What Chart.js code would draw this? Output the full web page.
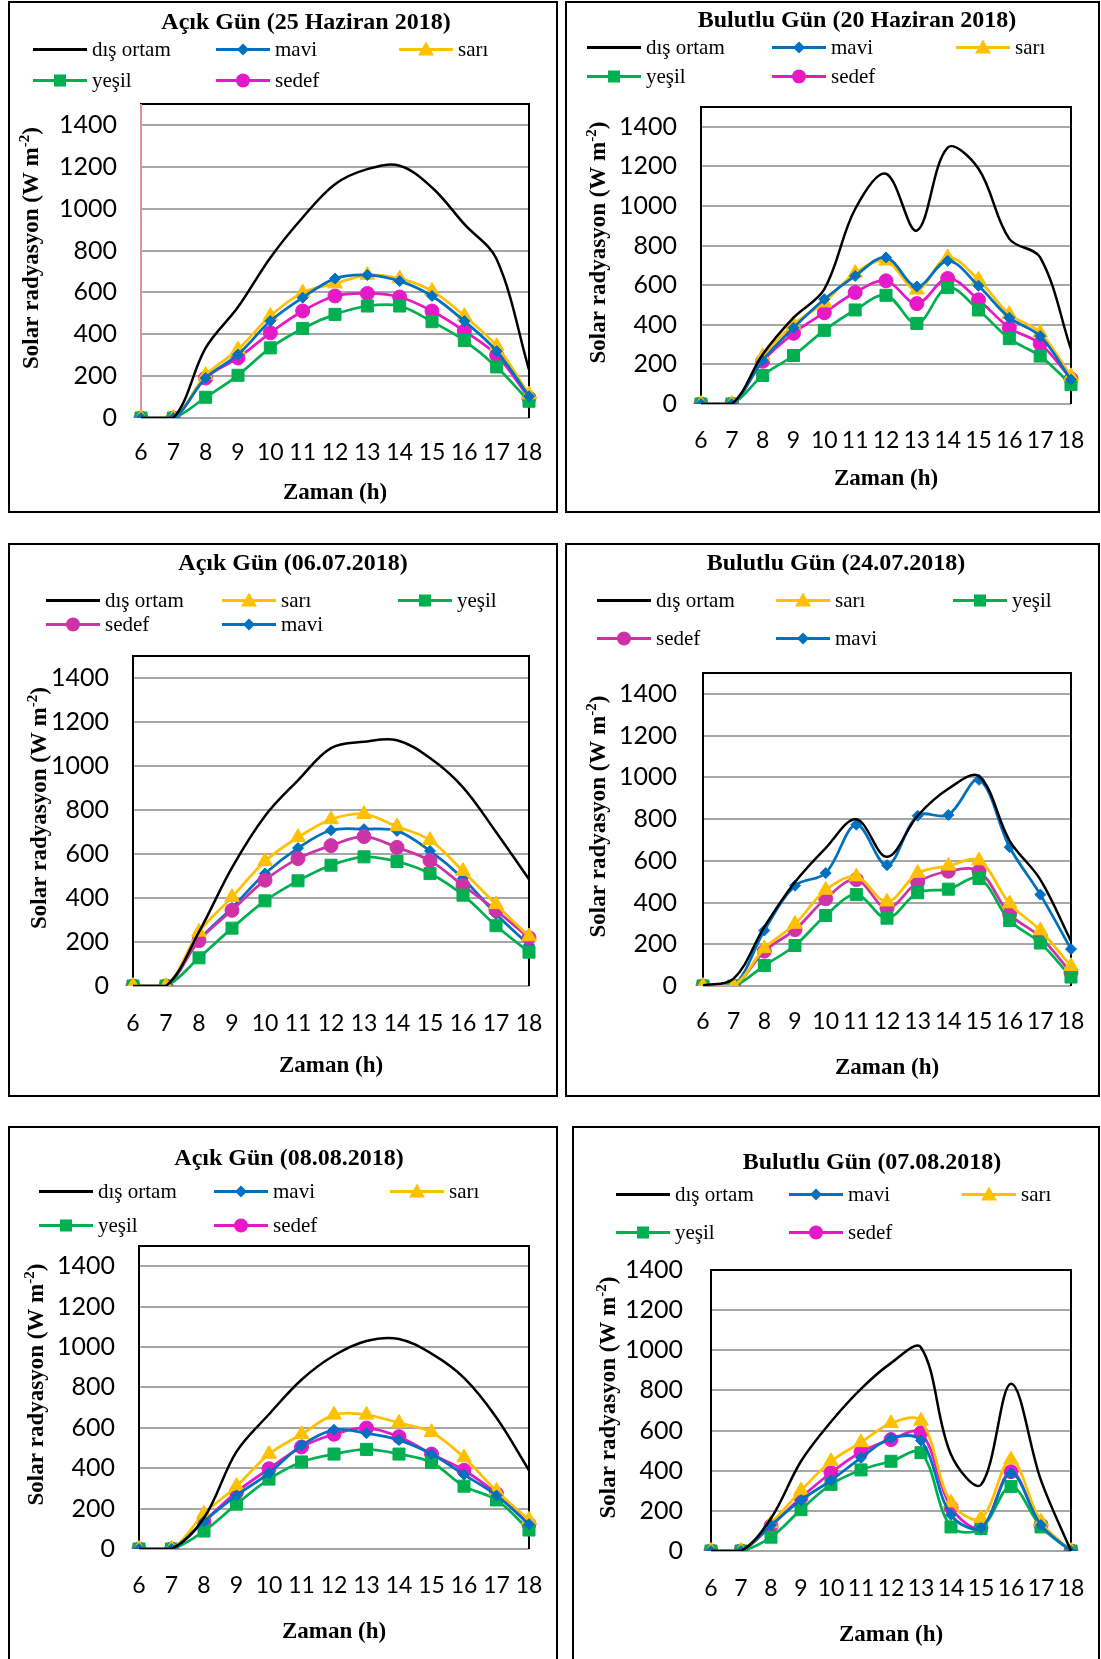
<!DOCTYPE html>
<html>
<head>
<meta charset="utf-8">
<script src="https://cdn.jsdelivr.net/npm/chart.js@4.4.1/dist/chart.umd.min.js"></script>
<style>
  body { margin: 0; background: #fff; }
  #page { position: relative; width: 1101px; height: 1659px; overflow: hidden; background: #fff; }
  .panel { position: absolute; }
  .panel canvas { position: absolute; left: 0; top: 0; }
  .frame { position: absolute; left: 0; top: 0; right: 0; bottom: 0; border: 2px solid #000; box-sizing: border-box; pointer-events: none; }
  .title { position: absolute; transform: translate(-50%, -50%); font: bold 24px "Liberation Serif", serif; white-space: nowrap; }
  .item { position: absolute; transform: translateY(-50%); display: flex; align-items: center; font: 21px "Liberation Serif", serif; white-space: nowrap; }
  .item svg { margin-right: 5px; }
</style>
</head>
<body>
<div id="page"></div>
<script>
const hours = ['6', '7', '8', '9', '10', '11', '12', '13', '14', '15', '16', '17', '18'];
const yTicks = [0, 200, 400, 600, 800, 1000, 1200, 1400];

// Açık Gün (25 Haziran 2018)
const disOrtam1 = [0, 0, 335, 530, 766, 958, 1117, 1189, 1205, 1101, 926, 758, 231];
const mavi1 = [0, 0, 191, 303, 463, 575, 666, 683, 654, 583, 463, 319, 104];
const sari1 = [0, 0, 205, 327, 487, 599, 642, 683, 666, 607, 487, 343, 112];
const yesil1 = [0, 0, 99, 204, 335, 428, 495, 535, 535, 460, 370, 244, 80];
const sedef1 = [0, 0, 191, 287, 407, 511, 583, 595, 578, 511, 415, 300, 96];

// Bulutlu Gün (20 Haziran 2018)
const disOrtam2 = [0, 0, 250, 436, 580, 985, 1163, 876, 1295, 1188, 834, 740, 276];
const mavi2 = [0, 0, 220, 385, 529, 647, 740, 593, 723, 597, 436, 343, 123];
const sari2 = [0, 0, 240, 402, 512, 661, 723, 577, 740, 627, 453, 360, 140];
const yesil2 = [0, 0, 144, 245, 372, 475, 549, 407, 588, 475, 330, 242, 98];
const sedef2 = [0, 0, 216, 357, 461, 563, 622, 507, 634, 526, 385, 304, 127];

// Açık Gün (06.07.2018)
const disOrtam3 = [0, 0, 246, 538, 773, 935, 1081, 1110, 1117, 1036, 903, 700, 485];
const sari3 = [0, 0, 246, 404, 567, 676, 757, 781, 725, 663, 522, 371, 225];
const yesil3 = [0, 0, 128, 263, 387, 478, 549, 587, 566, 511, 413, 274, 154];
const sedef3 = [0, 0, 206, 344, 481, 579, 638, 679, 630, 570, 457, 344, 219];
const mavi3 = [0, 0, 209, 355, 511, 627, 708, 713, 705, 614, 489, 327, 186];

// Bulutlu Gün (24.07.2018)
const disOrtam4 = [3, 35, 283, 498, 661, 799, 619, 816, 945, 1005, 696, 510, 215];
const sari4 = [0, 0, 180, 297, 460, 524, 404, 541, 576, 601, 395, 266, 95];
const yesil4 = [0, 0, 98, 194, 338, 438, 325, 447, 464, 515, 314, 206, 43];
const sedef4 = [0, 0, 167, 270, 418, 510, 373, 498, 550, 550, 344, 235, 64];
const mavi4 = [0, 0, 266, 481, 541, 773, 579, 816, 820, 988, 665, 438, 177];

// Açık Gün (08.08.2018)
const disOrtam5 = [0, 0, 154, 482, 667, 838, 958, 1030, 1040, 967, 847, 650, 390];
const mavi5 = [0, 0, 137, 265, 376, 513, 590, 573, 539, 470, 368, 265, 123];
const sari5 = [0, 0, 175, 311, 470, 568, 664, 664, 624, 578, 453, 287, 145];
const yesil5 = [0, 0, 89, 222, 346, 431, 470, 493, 470, 428, 311, 243, 94];
const sedef5 = [0, 0, 137, 282, 397, 505, 568, 599, 556, 470, 390, 274, 123];

// Bulutlu Gün (07.08.2018)
const disOrtam6 = [0, 0, 163, 447, 644, 808, 936, 1014, 481, 330, 833, 352, 0];
const mavi6 = [0, 0, 129, 253, 352, 464, 562, 550, 180, 115, 387, 129, 0];
const sari6 = [0, 0, 137, 301, 447, 541, 636, 648, 241, 163, 455, 146, 0];
const yesil6 = [0, 0, 69, 206, 332, 404, 447, 490, 120, 112, 321, 120, 0];
const sedef6 = [0, 0, 125, 266, 390, 493, 555, 589, 218, 115, 395, 129, 0];

const series = {
  dis:   { label: 'dış ortam', color: '#000000', width: 2.5, point: null },
  mavi:  { label: 'mavi',  color: '#0070C0', width: 2.75, point: 'rectRot',  r: 5.5 },
  sari:  { label: 'sarı',  color: '#FFC000', width: 2.75, point: 'triangle', r: 8.5 },
  yesil: { label: 'yeşil', color: '#00B050', width: 2.75, point: 'rect',     r: 8.5 },
  sedef: { label: 'sedef', color: '#E619C8', width: 2.75, point: 'circle',   r: 7 }
};

const orderA = ['dis', 'mavi', 'sari', 'yesil', 'sedef'];
const orderB = ['dis', 'sari', 'yesil', 'sedef', 'mavi'];

const panels = [
  { title: 'Açık Gün (25 Haziran 2018)', order: orderA,
    data: { dis: disOrtam1, mavi: mavi1, sari: sari1, yesil: yesil1, sedef: sedef1 },
    x: 8, y: 1, w: 550, h: 512, plot: { l: 133, r: 521, t: 103, b: 417 }, yMax: 1500,
    titlePos: [298, 20], legCols: [25, 208, 391], legRows: [48, 79],
    yPad: 24, xTick: 21, yTitleX: 24, xTitleDz: 75, leftColor: '#D99694' },
  { title: 'Bulutlu Gün (20 Haziran 2018)', order: orderA,
    data: { dis: disOrtam2, mavi: mavi2, sari: sari2, yesil: yesil2, sedef: sedef2 },
    x: 565, y: 1, w: 535, h: 512, plot: { l: 136, r: 506, t: 106, b: 403 }, yMax: 1500,
    titlePos: [292, 18], legCols: [22, 207, 391], legRows: [46, 75],
    yPad: 24, xTick: 23, yTitleX: 34, xTitleDz: 75 },
  { title: 'Açık Gün (06.07.2018)', order: orderB, sedefColor: '#CC33A6',
    data: { dis: disOrtam3, mavi: mavi3, sari: sari3, yesil: yesil3, sedef: sedef3 },
    x: 8, y: 543, w: 550, h: 554, plot: { l: 125, r: 521, t: 113, b: 443 }, yMax: 1500,
    titlePos: [285, 19], legCols: [38, 214, 390], legRows: [57, 81],
    yPad: 24, xTick: 24, yTitleX: 32, xTitleDz: 80 },
  { title: 'Bulutlu Gün (24.07.2018)', order: orderB, sedefColor: '#CC33A6',
    data: { dis: disOrtam4, mavi: mavi4, sari: sari4, yesil: yesil4, sedef: sedef4 },
    x: 565, y: 543, w: 535, h: 554, plot: { l: 138, r: 506, t: 130, b: 443 }, yMax: 1500,
    titlePos: [271, 19], legCols: [32, 211, 388], legRows: [57, 95],
    yPad: 26, xTick: 22, yTitleX: 34, xTitleDz: 82 },
  { title: 'Açık Gün (08.08.2018)', order: orderA,
    data: { dis: disOrtam5, mavi: mavi5, sari: sari5, yesil: yesil5, sedef: sedef5 },
    x: 8, y: 1126, w: 550, h: 540, plot: { l: 131, r: 521, t: 120, b: 423 }, yMax: 1500,
    titlePos: [281, 31], legCols: [31, 206, 382], legRows: [65, 99],
    yPad: 24, xTick: 23, yTitleX: 29, xTitleDz: 83 },
  { title: 'Bulutlu Gün (07.08.2018)', order: orderA,
    data: { dis: disOrtam6, mavi: mavi6, sari: sari6, yesil: yesil6, sedef: sedef6 },
    x: 572, y: 1126, w: 528, h: 540, plot: { l: 139, r: 499, t: 144, b: 425 }, yMax: 1400,
    titlePos: [300, 35], legCols: [44, 217, 390], legRows: [68, 106],
    yPad: 28, xTick: 24, yTitleX: 37, xTitleDz: 84 }
];

// black box round the plot area (left edge may have its own colour)
const plotFrame = {
  id: 'plotFrame',
  beforeDatasetsDraw(chart, args, opts) {
    const { left, right, top, bottom } = chart.chartArea;
    const c = chart.ctx;
    c.save();
    c.lineWidth = 2;
    c.strokeStyle = '#000';
    c.beginPath();
    c.moveTo(left, bottom);
    c.lineTo(left, top);
    c.lineTo(right, top);
    c.lineTo(right, bottom);
    c.stroke();
    if (opts.leftColor) {
      c.strokeStyle = opts.leftColor;
      c.beginPath();
      c.moveTo(left, bottom);
      c.lineTo(left, top);
      c.stroke();
    }
    c.restore();
  }
};

// y axis title with a real superscript, sitting a bit above the plot centre like the original
const yAxisTitle = {
  id: 'yAxisTitle',
  afterDraw(chart, args, opts) {
    const { top, bottom } = chart.chartArea;
    const c = chart.ctx;
    const main = 'Solar radyasyon (W m';
    const sup = '-2';
    const end = ')';
    const big = 'bold 23px "Liberation Serif"';
    const small = 'bold 15px "Liberation Serif"';
    c.save();
    c.fillStyle = '#000';
    c.textBaseline = 'middle';
    c.font = big;
    const w1 = c.measureText(main).width;
    const w3 = c.measureText(end).width;
    c.font = small;
    const w2 = c.measureText(sup).width;
    const total = w1 + w2 + w3;
    c.translate(opts.x, (top + bottom) / 2 - 13);
    c.rotate(-Math.PI / 2);
    let x = -total / 2;
    c.font = big;
    c.fillText(main, x, 0);
    x += w1;
    c.font = small;
    c.fillText(sup, x, -7);
    x += w2;
    c.font = big;
    c.fillText(end, x, 0);
    c.restore();
  }
};

function markerSvg(key, color) {
  let shape = '';
  if (key === 'mavi') shape = `<polygon points="27,2 33,8 27,14 21,8" fill="${color}"/>`;
  if (key === 'sari') shape = `<polygon points="27,0 35,14 19,14" fill="${color}"/>`;
  if (key === 'yesil') shape = `<rect x="21" y="2" width="12" height="12" fill="${color}"/>`;
  if (key === 'sedef') shape = `<circle cx="27" cy="8" r="7" fill="${color}"/>`;
  return `<svg width="54" height="16"><line x1="0" y1="8" x2="54" y2="8" stroke="${color}" stroke-width="3"/>${shape}</svg>`;
}

function makeDataset(key, values, p) {
  const s = series[key];
  const color = key === 'sedef' && p.sedefColor ? p.sedefColor : s.color;
  return {
    label: s.label,
    data: values,
    borderColor: color,
    backgroundColor: color,
    borderWidth: s.width,
    tension: 0.35,
    pointStyle: s.point || 'circle',
    pointRadius: s.point ? s.r : 0,
    pointHoverRadius: 0,
    pointBorderWidth: 1,
    pointBackgroundColor: color,
    pointBorderColor: color
  };
}

const page = document.getElementById('page');

panels.forEach(p => {
  const div = document.createElement('div');
  div.className = 'panel';
  div.style.left = p.x + 'px';
  div.style.top = p.y + 'px';
  div.style.width = p.w + 'px';
  div.style.height = p.h + 'px';
  const canvas = document.createElement('canvas');
  canvas.width = p.w;
  canvas.height = p.h;
  canvas.style.width = p.w + 'px';
  canvas.style.height = p.h + 'px';
  div.appendChild(canvas);

  const title = document.createElement('div');
  title.className = 'title';
  title.style.left = p.titlePos[0] + 'px';
  title.style.top = p.titlePos[1] + 'px';
  title.textContent = p.title;
  div.appendChild(title);

  p.order.forEach((key, i) => {
    const s = series[key];
    const color = key === 'sedef' && p.sedefColor ? p.sedefColor : s.color;
    const item = document.createElement('div');
    item.className = 'item';
    item.style.left = p.legCols[i % 3] + 'px';
    item.style.top = p.legRows[Math.floor(i / 3)] + 'px';
    item.innerHTML = markerSvg(key, color) + '<span>' + s.label + '</span>';
    div.appendChild(item);
  });

  const frame = document.createElement('div');
  frame.className = 'frame';
  div.appendChild(frame);
  page.appendChild(div);

  const padBottom = 4;
  const lineH = 23 * 1.2;
  new Chart(canvas.getContext('2d'), {
    type: 'line',
    data: {
      labels: hours,
      datasets: p.order.map(key => makeDataset(key, p.data[key], p))
    },
    options: {
      responsive: false,
      animation: false,
      layout: { padding: { left: 6, right: p.w - p.plot.r, top: p.plot.t, bottom: padBottom } },
      plugins: {
        legend: { display: false },
        tooltip: { enabled: false },
        plotFrame: { leftColor: p.leftColor },
        yAxisTitle: { x: p.yTitleX }
      },
      scales: {
        x: {
          type: 'category',
          offset: false,
          // tick marks are hidden; their length only pushes the labels down
          grid: { display: false, drawTicks: true, tickLength: p.xTick },
          border: { display: false },
          ticks: { color: '#000', font: { family: 'Lato', size: 23 }, padding: 0, maxRotation: 0, autoSkip: false },
          title: {
            display: true, text: 'Zaman (h)', color: '#000',
            font: { family: 'Liberation Serif', size: 23, weight: 'bold' },
            padding: { top: 0, bottom: p.h - padBottom - lineH / 2 - (p.plot.b + p.xTitleDz) }
          },
          afterFit: s => { s.height = p.h - padBottom - p.plot.b; }
        },
        y: {
          min: 0,
          max: p.yMax,
          afterBuildTicks: s => { s.ticks = yTicks.map(v => ({ value: v })); },
          grid: { color: '#a6a6a6', lineWidth: 2, drawTicks: false },
          border: { display: false },
          ticks: { color: '#000', font: { family: 'Lato', size: 25 }, padding: p.yPad, callback: v => String(v) },
          title: { display: false },
          afterFit: s => { s.width = p.plot.l - 6; }
        }
      }
    },
    plugins: [plotFrame, yAxisTitle]
  });
});
</script>
</body>
</html>
